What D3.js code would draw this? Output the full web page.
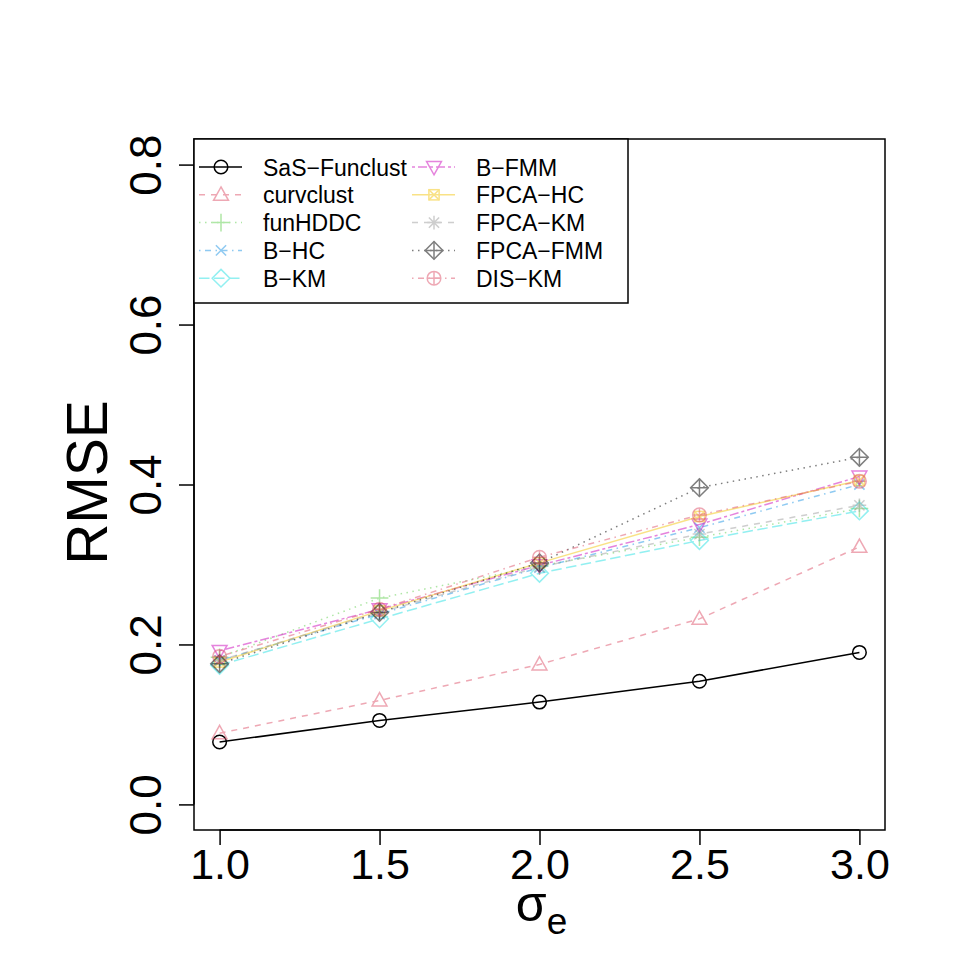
<!DOCTYPE html>
<html>
<head>
<meta charset="utf-8">
<script src="https://cdn.jsdelivr.net/npm/d3@7"></script>
<style>
  body { margin: 0; background: #fff; }
  svg { font-family: "Liberation Sans", Arial, sans-serif; }
</style>
</head>
<body>
<div id="chart"></div>
<script>
// sigma_e values on the x axis
const sigmas = [1.0, 1.5, 2.0, 2.5, 3.0];
const xTicks = [1.0, 1.5, 2.0, 2.5, 3.0];
const yTicks = [0.0, 0.2, 0.4, 0.6, 0.8];

const methods = ["SaS\u2212Funclust", "curvclust", "funHDDC", "B\u2212HC", "B\u2212KM",
  "B\u2212FMM", "FPCA\u2212HC", "FPCA\u2212KM", "FPCA\u2212FMM", "DIS\u2212KM"];

// RMSE, one array per method
const sasFunclust = [0.078, 0.105, 0.128, 0.154, 0.190];
const curvclust   = [0.089, 0.130, 0.175, 0.232, 0.322];
const funHDDC     = [0.184, 0.258, 0.298, 0.334, 0.370];
const bHC         = [0.180, 0.238, 0.296, 0.346, 0.400];
const bKM         = [0.174, 0.232, 0.289, 0.330, 0.367];
const bFMM        = [0.192, 0.244, 0.299, 0.350, 0.410];
const fpcaHC      = [0.178, 0.242, 0.302, 0.360, 0.405];
const fpcaKM      = [0.180, 0.240, 0.297, 0.338, 0.374];
const fpcaFMM     = [0.176, 0.240, 0.302, 0.396, 0.434];
const disKM       = [0.185, 0.244, 0.309, 0.362, 0.404];

const allValues = [sasFunclust, curvclust, funHDDC, bHC, bKM, bFMM, fpcaHC, fpcaKM, fpcaFMM, disKM];

// R default palette, col = 1:10 (wraps after 8)
const palette = ["#000000", "#DF536B", "#61D04F", "#2297E6", "#28E2E5", "#CD0BBC", "#F5C710", "#9E9E9E"];
// R lty 1..6 patterns (scaled by line width)
const ltys = [null, [4, 4], [1, 3], [1, 3, 4, 3], [7, 3], [2, 2, 6, 2]];

const width = 969, height = 969;
const margin = { left: 194, right: 84, top: 139, bottom: 139 };

const svg = d3.select("#chart").append("svg")
  .attr("width", width).attr("height", height);

const x = d3.scaleLinear().domain([0.92, 3.08]).range([margin.left, width - margin.right]);
const y = d3.scaleLinear().domain([-0.032, 0.832]).range([height - margin.bottom, margin.top]);

const lw = 1.5;

// symbol drawing (R pch 1..10)
let drawPch = (g, pch, cx, cy, color) => {
  const r = 6.8;
  const s = g.append("g").attr("transform", `translate(${cx},${cy})`)
    .attr("fill", "none").attr("stroke", color).attr("stroke-width", lw);
  const tri = (dir) => {
    const h = r * 1.15;
    return dir > 0
      ? `M0,${-h} L${h * 0.95},${h * 0.7} L${-h * 0.95},${h * 0.7} Z`
      : `M0,${h} L${h * 0.95},${-h * 0.7} L${-h * 0.95},${-h * 0.7} Z`;
  };
  const plus = `M${-r},0 L${r},0 M0,${-r} L0,${r}`;
  const d = r * 0.75;
  const cross = `M${-d},${-d} L${d},${d} M${-d},${d} L${d},${-d}`;
  const dia = `M0,${-r * 1.3} L${r * 1.3},0 L0,${r * 1.3} L${-r * 1.3},0 Z`;
  if (pch === 1) s.append("circle").attr("r", r);
  if (pch === 2) s.append("path").attr("d", tri(1));
  if (pch === 3) s.append("path").attr("d", `M${-r * 1.3},0 L${r * 1.3},0 M0,${-r * 1.3} L0,${r * 1.3}`);
  if (pch === 4) s.append("path").attr("d", cross);
  if (pch === 5) s.append("path").attr("d", dia);
  if (pch === 6) s.append("path").attr("d", tri(-1));
  if (pch === 7) {
    s.append("rect").attr("x", -d).attr("y", -d).attr("width", 2 * d).attr("height", 2 * d);
    s.append("path").attr("d", cross);
  }
  if (pch === 8) s.append("path").attr("d", plus + " " + cross);
  if (pch === 9) {
    s.append("path").attr("d", dia);
    s.append("path").attr("d", `M${-r * 1.3},0 L${r * 1.3},0 M0,${-r * 1.3} L0,${r * 1.3}`);
  }
  if (pch === 10) {
    s.append("circle").attr("r", r);
    s.append("path").attr("d", plus);
  }
};

const styleOf = (i) => ({
  color: palette[i % 8],
  opacity: i === 0 ? 1 : 0.5,
  dash: ltys[i % 6] ? ltys[i % 6].map(v => v * lw).join(",") : null,
  pch: i + 1
});

const line = d3.line().x((d, i) => x(sigmas[i])).y(d => y(d));

// series
allValues.forEach((vals, i) => {
  const st = styleOf(i);
  const g = svg.append("g").attr("opacity", st.opacity);
  g.append("path").datum(vals)
    .attr("fill", "none").attr("stroke", st.color).attr("stroke-width", lw)
    .attr("stroke-dasharray", st.dash).attr("d", line);
  vals.forEach((v, j) => drawPch(g, st.pch, x(sigmas[j]), y(v), st.color));
});

// axes
const xAxis = svg.append("g").attr("transform", `translate(0,${height - margin.bottom})`)
  .call(d3.axisBottom(x).tickValues(xTicks).tickFormat(d3.format(".1f")).tickSize(15).tickSizeOuter(0));
xAxis.select(".domain").attr("d", `M${x(1)},0H${x(3)}`);
xAxis.selectAll(".tick text").attr("font-size", 43).attr("fill", "#000")
  .attr("font-family", "Liberation Sans, Arial, sans-serif");

const yAxis = svg.append("g").attr("transform", `translate(${margin.left},0)`)
  .call(d3.axisLeft(y).tickValues(yTicks).tickFormat(d3.format(".1f")).tickSize(15).tickSizeOuter(0));
yAxis.select(".domain").attr("d", `M0,${y(0)}V${y(0.8)}`);
// rotated labels, baseline left of the ticks
yAxis.selectAll(".tick text")
  .attr("font-size", 44).attr("fill", "#000").attr("font-family", "Liberation Sans, Arial, sans-serif")
  .attr("text-anchor", "middle").attr("transform", "rotate(-90)")
  .attr("x", 0).attr("y", -33).attr("dy", 0);
svg.selectAll(".domain, .tick line").attr("stroke", "#000").attr("stroke-width", lw);

// plot box
svg.append("rect")
  .attr("x", margin.left).attr("y", margin.top)
  .attr("width", width - margin.left - margin.right)
  .attr("height", height - margin.bottom - margin.top)
  .attr("fill", "none").attr("stroke", "#000").attr("stroke-width", lw);

// axis titles
svg.append("text")
  .attr("transform", `translate(107,${(y(0) + y(0.8)) / 2 - 2}) rotate(-90)`)
  .attr("text-anchor", "middle").attr("font-size", 57).text("RMSE");

const xl = svg.append("text").attr("x", x(2) + 2).attr("y", 921)
  .attr("text-anchor", "middle").attr("font-size", 50);
xl.append("tspan").text("\u03C3");
xl.append("tspan").attr("font-size", 37).attr("dy", 13).text("e");

// legend
const legX = margin.left, legY = margin.top;
const legend = svg.append("g");
legend.append("rect")
  .attr("x", legX).attr("y", legY).attr("width", 434).attr("height", 164)
  .attr("fill", "#fff").attr("stroke", "#000").attr("stroke-width", lw);

methods.forEach((m, i) => {
  const st = styleOf(i);
  const col = Math.floor(i / 5), row = i % 5;
  const x0 = col === 0 ? 199 : 412;
  const ry = 167 + row * 27.8;
  const g = legend.append("g").attr("opacity", st.opacity);
  g.append("line").attr("x1", x0).attr("x2", x0 + 43).attr("y1", ry).attr("y2", ry)
    .attr("stroke", st.color).attr("stroke-width", lw).attr("stroke-dasharray", st.dash);
  drawPch(g, st.pch, x0 + 22, ry, st.color);
  legend.append("text").attr("x", x0 + 64).attr("y", ry + 8.5)
    .attr("font-size", 23).text(m);
});
</script>
</body>
</html>
